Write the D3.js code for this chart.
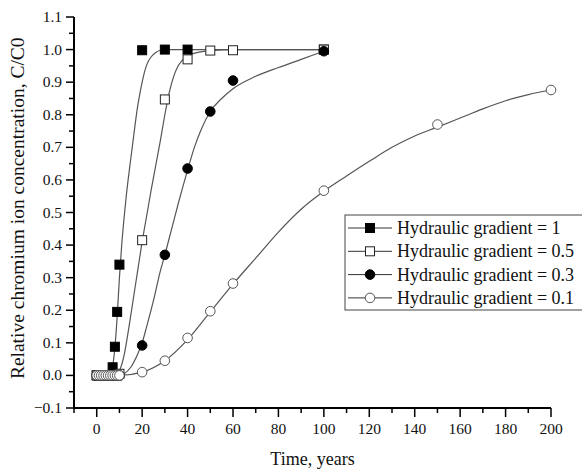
<!DOCTYPE html>
<html>
<head>
<meta charset="utf-8">
<script src="https://cdn.jsdelivr.net/npm/d3@7"></script>
<style>
  body { margin: 0; background: #fff; }
  svg { display: block; font-family: "Liberation Serif", "Times New Roman", serif; }
</style>
</head>
<body>
<svg id="chart" width="582" height="470"></svg>
<script>
// measured points (time in years, C/C0)
const seriesNames = ["Hydraulic gradient = 1", "Hydraulic gradient = 0.5", "Hydraulic gradient = 0.3", "Hydraulic gradient = 0.1"];

const t1 = [0, 1, 2, 3, 4, 5, 6, 7, 8, 9, 10, 20, 30, 40, 100];
const c1 = [0, 0, 0, 0, 0, 0, 0, 0.025, 0.088, 0.195, 0.34, 0.998, 1.0, 1.0, 1.0];

const t05 = [0, 1, 2, 3, 4, 5, 6, 7, 8, 9, 10, 20, 30, 40, 50, 60, 100];
const c05 = [0, 0, 0, 0, 0, 0, 0, 0, 0, 0, 0.005, 0.415, 0.847, 0.97, 0.997, 0.998, 1.0];

const t03 = [0, 1, 2, 3, 4, 5, 6, 7, 8, 9, 10, 20, 30, 40, 50, 60, 100];
const c03 = [0, 0, 0, 0, 0, 0, 0, 0, 0, 0, 0, 0.092, 0.37, 0.635, 0.81, 0.905, 0.995];

const t01 = [0, 1, 2, 3, 4, 5, 6, 7, 8, 9, 10, 20, 30, 40, 50, 60, 100, 150, 200];
const c01 = [0, 0, 0, 0, 0, 0, 0, 0, 0, 0, 0, 0.01, 0.045, 0.115, 0.197, 0.282, 0.567, 0.77, 0.876];

// model curves
const fitT1 = [0, 5, 6, 7, 8, 9, 10, 11, 12, 13, 14, 15, 16, 17, 18, 19, 20, 21, 22, 24, 26, 28, 30, 100];
const fitC1 = [0, 0.002, 0.008, 0.028, 0.085, 0.18, 0.3, 0.4, 0.48, 0.55, 0.61, 0.665, 0.72, 0.775, 0.825, 0.865, 0.9, 0.93, 0.953, 0.978, 0.991, 0.998, 1.0, 1.0];

const fitT05 = [0, 8, 10, 12, 14, 16, 18, 20, 22, 24, 26, 28, 30, 32, 34, 36, 40, 45, 50, 60, 100];
const fitC05 = [0, 0.002, 0.015, 0.06, 0.14, 0.23, 0.32, 0.41, 0.49, 0.57, 0.645, 0.72, 0.8, 0.87, 0.92, 0.952, 0.98, 0.992, 0.997, 1.0, 1.0];

const fitT03 = [0, 10, 12, 15, 18, 20, 22, 25, 28, 30, 33, 36, 40, 43, 46, 50, 55, 60, 70, 80, 90, 100];
const fitC03 = [0, 0, 0.005, 0.025, 0.065, 0.1, 0.15, 0.23, 0.32, 0.37, 0.45, 0.53, 0.63, 0.7, 0.755, 0.81, 0.85, 0.88, 0.918, 0.945, 0.97, 0.995];

const fitT01 = [0, 10, 20, 30, 40, 50, 60, 70, 80, 90, 100, 110, 120, 130, 140, 150, 160, 170, 180, 190, 200];
const fitC01 = [0, 0, 0.01, 0.045, 0.11, 0.195, 0.28, 0.36, 0.44, 0.51, 0.565, 0.612, 0.657, 0.7, 0.735, 0.762, 0.79, 0.818, 0.843, 0.862, 0.876];

const xTicks = [0, 20, 40, 60, 80, 100, 120, 140, 160, 180, 200];
const yTicks = [-0.1, 0, 0.1, 0.2, 0.3, 0.4, 0.5, 0.6, 0.7, 0.8, 0.9, 1.0, 1.1];

const svg = d3.select("#chart");
const margin = { top: 17, right: 31, bottom: 62, left: 74 };
const W = 582, H = 470;

const x = d3.scaleLinear().domain([-10, 200]).range([margin.left, W - margin.right]);
const y = d3.scaleLinear().domain([-0.1, 1.1]).range([H - margin.bottom, margin.top]);

const zip = (a, b) => a.map((v, i) => [v, b[i]]);

const series = [
    { name: seriesNames[0], pts: zip(t1, c1), fit: zip(fitT1, fitC1), shape: "square", fill: "#000", stroke: "#000" },
    { name: seriesNames[1], pts: zip(t05, c05), fit: zip(fitT05, fitC05), shape: "square", fill: "#fff", stroke: "#222" },
    { name: seriesNames[2], pts: zip(t03, c03), fit: zip(fitT03, fitC03), shape: "circle", fill: "#000", stroke: "#000" },
    { name: seriesNames[3], pts: zip(t01, c01), fit: zip(fitT01, fitC01), shape: "circle", fill: "#fff", stroke: "#555" }
];

// axes
const xAxis = svg.append("g").attr("transform", `translate(0,${y(-0.1)})`);
xAxis.append("line").attr("x1", x(-10)).attr("x2", x(200)).attr("stroke", "#000").attr("stroke-width", 2);
xAxis.selectAll(".minor").data(d3.range(-10, 200, 20)).join("line")
    .attr("x1", d => x(d)).attr("x2", d => x(d)).attr("y1", 0).attr("y2", 5)
    .attr("stroke", "#000").attr("stroke-width", 1.5);
xAxis.selectAll(".major").data(xTicks).join("line")
    .attr("x1", d => x(d)).attr("x2", d => x(d)).attr("y1", 0).attr("y2", 9)
    .attr("stroke", "#000").attr("stroke-width", 1.5);
xAxis.selectAll("text").data(xTicks).join("text")
    .attr("x", d => x(d)).attr("y", 26)
    .attr("text-anchor", "middle").attr("font-size", 15.5).attr("fill", "#111")
    .text(d => d);

const yAxis = svg.append("g").attr("transform", `translate(${x(-10)},0)`);
yAxis.append("line").attr("y1", y(-0.1) + 1).attr("y2", y(1.1)).attr("stroke", "#000").attr("stroke-width", 2);
yAxis.selectAll(".minor").data(d3.range(-0.05, 1.1, 0.1)).join("line")
    .attr("y1", d => y(d)).attr("y2", d => y(d)).attr("x1", 0).attr("x2", -5)
    .attr("stroke", "#000").attr("stroke-width", 1.5);
yAxis.selectAll(".major").data(yTicks).join("line")
    .attr("y1", d => y(d)).attr("y2", d => y(d)).attr("x1", 0).attr("x2", -8)
    .attr("stroke", "#000").attr("stroke-width", 1.5);
yAxis.selectAll("text").data(yTicks).join("text")
    .attr("x", -12).attr("y", d => y(d) + 5)
    .attr("text-anchor", "end").attr("font-size", 15.5).attr("fill", "#111")
    .text(d => d3.format(".1f")(d));

svg.append("text")
    .attr("x", x(95)).attr("y", 465)
    .attr("text-anchor", "middle").attr("font-size", 18).attr("fill", "#111")
    .text("Time, years");

svg.append("text")
    .attr("transform", `translate(24,${y(0.513)}) rotate(-90)`)
    .attr("text-anchor", "middle").attr("font-size", 19.5).attr("fill", "#111")
    .text("Relative chromium ion concentration, C/C0");

// model curves
const line = d3.line().x(d => x(d[0])).y(d => y(d[1])).curve(d3.curveMonotoneX);
svg.append("g").selectAll("path").data(series).join("path")
    .attr("d", d => line(d.fit))
    .attr("fill", "none").attr("stroke", "#555").attr("stroke-width", 1.2);

function drawMarker(g, shape, fill, stroke) {
    if (shape === "square") {
        g.append("rect").attr("x", -4.5).attr("y", -4.5).attr("width", 9).attr("height", 9)
            .attr("fill", fill).attr("stroke", stroke).attr("stroke-width", 1);
    } else {
        g.append("circle").attr("r", 4.8)
            .attr("fill", fill).attr("stroke", stroke).attr("stroke-width", 1);
    }
}

// markers
series.forEach(s => {
    const g = svg.append("g");
    s.pts.forEach(p => {
        const m = g.append("g").attr("transform", `translate(${x(p[0])},${y(p[1])})`);
        drawMarker(m, s.shape, s.fill, s.stroke);
    });
});

// legend
const legend = svg.append("g").attr("transform", "translate(345,215)");
legend.append("rect").attr("x", 0).attr("y", 0).attr("width", 250).attr("height", 95)
    .attr("fill", "#fff").attr("stroke", "#444").attr("stroke-width", 1);
series.forEach((s, i) => {
    const ly = 13 + i * 23.3;
    legend.append("line").attr("x1", 3).attr("x2", 47).attr("y1", ly).attr("y2", ly)
        .attr("stroke", "#333").attr("stroke-width", 1);
    const m = legend.append("g").attr("transform", `translate(25,${ly})`);
    drawMarker(m, s.shape, s.fill, s.stroke);
    legend.append("text").attr("x", 52).attr("y", ly + 6)
        .attr("font-size", 18).attr("fill", "#111")
        .text(s.name);
});
</script>
</body>
</html>
